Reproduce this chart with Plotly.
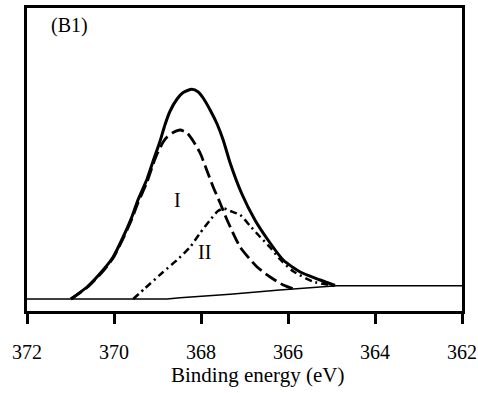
import plotly.graph_objects as go

# Binding energy (eV) and intensity (a.u.)
env_E = [370.99, 370.62, 370.25, 370.02, 369.79, 369.59, 369.45, 369.24, 369.10, 368.94,
         368.83, 368.71, 368.55, 368.41, 368.21, 368.07, 367.95, 367.79, 367.63, 367.49,
         367.33, 367.07, 366.76, 366.46, 366.11, 365.72, 365.26, 364.92]
env_I = [14, 26, 43, 56, 76, 96, 113, 134, 152, 172,
         188, 202, 214, 220.5, 223.7, 221.3, 215, 203, 189, 173,
         150, 120, 93, 73, 53, 41, 33, 27.5]

p1_E = [370.99, 370.62, 370.25, 370.02, 369.79, 369.59, 369.45, 369.24, 369.10, 369.01,
        368.87, 368.78, 368.64, 368.48, 368.32, 368.18, 368.02, 367.86, 367.72, 367.56,
        367.40, 367.10, 366.71, 366.41, 366.11, 365.79]
p1_I = [14, 25.5, 42, 55, 74.5, 94, 110, 131, 149, 159,
        171, 176, 180.5, 183, 180, 172, 160, 142, 126, 110,
        93, 66, 46, 36, 28, 23]

p2_E = [369.56, 369.28, 368.87, 368.55, 368.25, 368.02, 367.79, 367.61, 367.47, 367.33,
        367.10, 366.87, 366.64, 366.42, 366.19, 365.89, 365.43, 364.92]
p2_I = [14, 25, 41, 53, 66, 80, 93, 102, 104.5, 102,
        98, 87, 76, 66, 54, 42, 31.5, 27]

base_E = [372.0, 368.78, 368.48, 367.33, 366.19, 364.88, 362.0]
base_I = [14, 14, 15.3, 18.7, 23, 27.3, 27.3]

x_ticks = [372, 370, 368, 366, 364, 362]

FONT = "Liberation Serif"

fig = go.Figure()
fig.add_trace(go.Scatter(x=base_E, y=base_I, mode="lines",
                         line=dict(color="black", width=1.5)))
fig.add_trace(go.Scatter(x=p2_E, y=p2_I, mode="lines",
                         line=dict(color="black", width=2.5, dash="7px,4px,2px,4px",
                                   shape="spline", smoothing=0.6)))
fig.add_trace(go.Scatter(x=p1_E, y=p1_I, mode="lines",
                         line=dict(color="black", width=2.8, dash="13px,5px",
                                   shape="spline", smoothing=0.6)))
fig.add_trace(go.Scatter(x=env_E, y=env_I, mode="lines",
                         line=dict(color="black", width=3,
                                   shape="spline", smoothing=0.6)))

fig.add_annotation(x=368.55, y=113, text="I", showarrow=False,
                   font=dict(family=FONT, size=20, color="black"))
fig.add_annotation(x=367.91, y=61, text="II", showarrow=False,
                   font=dict(family=FONT, size=20, color="black"))
fig.add_annotation(xref="paper", yref="paper", x=0.0977, y=0.942, text="(B1)",
                   showarrow=False, xanchor="center", yanchor="middle",
                   font=dict(family=FONT, size=20, color="black"))
fig.add_annotation(xref="paper", yref="paper", x=0.529, y=-0.211,
                   text="Binding energy (eV)", showarrow=False,
                   xanchor="center", yanchor="middle",
                   font=dict(family=FONT, size=21, color="black"))

fig.update_layout(
    width=478, height=393,
    margin=dict(l=27, r=16, t=8, b=82),
    paper_bgcolor="white", plot_bgcolor="white",
    showlegend=False,
    xaxis=dict(range=[372, 362], tickvals=x_ticks, ticktext=[str(v) for v in x_ticks],
               showgrid=False, zeroline=False, showline=True, mirror=True,
               linecolor="black", linewidth=3, ticks="outside", ticklen=10,
               tickwidth=3, tickcolor="black", ticklabelstandoff=11,
               automargin=False,
               tickfont=dict(family=FONT, size=20, color="black")),
    yaxis=dict(range=[2, 305], showgrid=False, zeroline=False, showline=True,
               mirror=True, linecolor="black", linewidth=3, showticklabels=False,
               ticks="", automargin=False),
)

fig.write_html("out.html")
